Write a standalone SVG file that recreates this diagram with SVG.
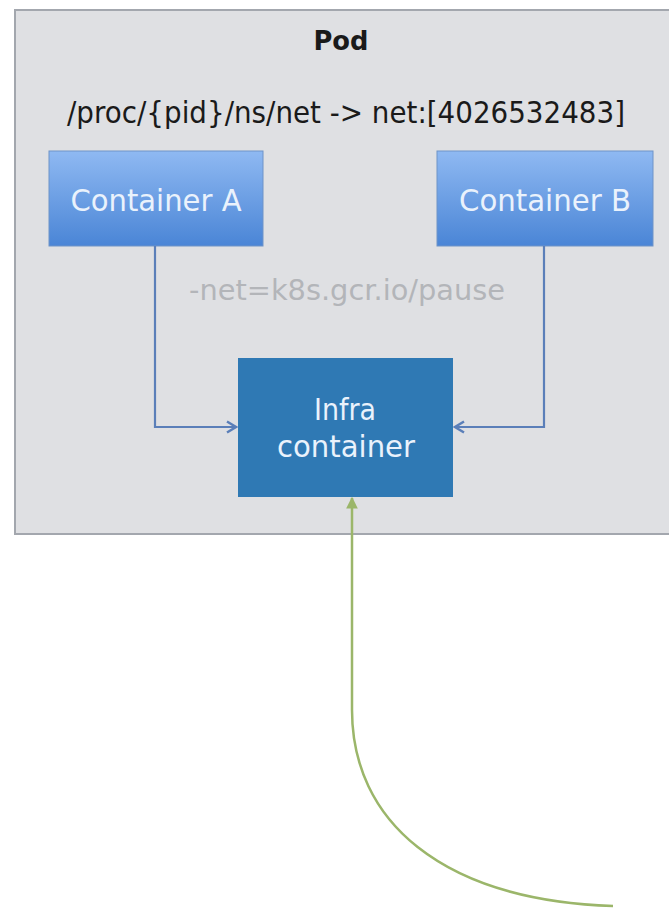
<svg xmlns="http://www.w3.org/2000/svg" width="669" height="909" viewBox="0 0 669 909">
  <defs>
    <linearGradient id="blueGrad" x1="0" y1="0" x2="0" y2="1">
      <stop offset="0" stop-color="#8fb9f2"/>
      <stop offset="1" stop-color="#4a85d6"/>
    </linearGradient>
    <marker id="openArrow" viewBox="0 0 14 14" refX="12" refY="7" markerWidth="14" markerHeight="14" markerUnits="userSpaceOnUse" orient="auto">
      <path d="M3,1.5 L12,7 L3,12.5" fill="none" stroke="#5b7fb9" stroke-width="2.5"/>
    </marker>
    <marker id="greenArrow" viewBox="0 0 12 12" refX="10" refY="6" markerWidth="14" markerHeight="14" markerUnits="userSpaceOnUse" orient="auto">
      <path d="M1,1 L11,6 L1,11 Z" fill="#9bb66a"/>
    </marker>
  </defs>
  <style>
    .label { font-family: "DejaVu Sans", "Liberation Sans", sans-serif; }
    .node-text { fill: #eaf2fc; font-size: 30px; text-anchor: middle; }
    .link { fill: none; stroke: #5b7fb9; stroke-width: 2.2; }
  </style>
  <rect x="0" y="0" width="669" height="909" fill="#ffffff"/>

  <g id="pod">
    <rect x="15" y="10" width="670" height="524" fill="#dfe0e3" stroke="#a3a7ae" stroke-width="2"/>
    <text class="label" x="341" y="50" font-size="26" font-weight="bold" fill="#1a1a1a" text-anchor="middle" textLength="55" lengthAdjust="spacingAndGlyphs">Pod</text>
    <text class="label" x="346" y="123" font-size="30" fill="#1a1a1a" text-anchor="middle" textLength="558" lengthAdjust="spacingAndGlyphs">/proc/{pid}/ns/net -&gt; net:[4026532483]</text>
    <text class="label" x="347" y="300" font-size="29" fill="#b3b5b9" text-anchor="middle" textLength="316" lengthAdjust="spacingAndGlyphs">-net=k8s.gcr.io/pause</text>
  </g>

  <g id="container-a">
    <rect x="49" y="151" width="214" height="95" fill="url(#blueGrad)" stroke="#6f93c8" stroke-width="1"/>
    <text class="label node-text" x="156" y="211" textLength="171" lengthAdjust="spacingAndGlyphs">Container A</text>
  </g>

  <g id="container-b">
    <rect x="437" y="151" width="216" height="95" fill="url(#blueGrad)" stroke="#6f93c8" stroke-width="1"/>
    <text class="label node-text" x="545" y="211" textLength="172" lengthAdjust="spacingAndGlyphs">Container B</text>
  </g>

  <g id="infra-container">
    <rect x="238" y="358" width="215" height="139" fill="#2f79b4"/>
    <text class="label node-text" x="345" y="420" textLength="62" lengthAdjust="spacingAndGlyphs">Infra</text>
    <text class="label node-text" x="346" y="457" textLength="138" lengthAdjust="spacingAndGlyphs">container</text>
  </g>

  <g id="connectors">
    <path class="link" d="M155,246 V427 H236" marker-end="url(#openArrow)"/>
    <path class="link" d="M544,246 V427 H455" marker-end="url(#openArrow)"/>
    <path d="M613,906 C440,900 352,820 352,710 V498" fill="none" stroke="#9bb66a" stroke-width="2.5" marker-end="url(#greenArrow)"/>
  </g>
</svg>
